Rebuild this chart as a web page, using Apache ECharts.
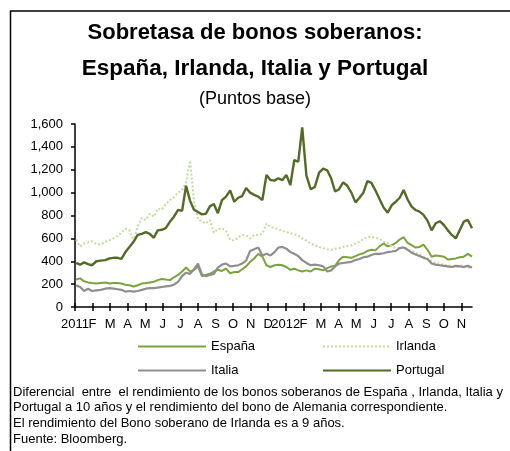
<!DOCTYPE html>
<html>
<head>
<meta charset="utf-8">
<script src="https://cdn.jsdelivr.net/npm/echarts@6/dist/echarts.min.js"></script>
<style>
html, body { margin: 0; padding: 0; background: #fff; }
#chart { width: 510px; height: 451px; }
</style>
</head>
<body>
<div id="chart"></div>
<script>
// weekly observations, first one on this date
var startDate = "2011-01-03";

var monthLabels = ["2011", "F", "M", "A", "M", "J", "J", "A", "S", "O", "N", "D",
	"2012", "F", "M", "A", "M", "J", "J", "A", "S", "O", "N"];

var espana = [240, 250, 225, 215, 210, 205, 210, 215, 205, 210,
	210, 205, 195, 190, 180, 190, 205, 210, 215, 220,
	235, 245, 240, 235, 260, 280, 310, 345, 310, 325,
	355, 270, 280, 290, 310, 325, 315, 335, 295, 305,
	305, 330, 355, 395, 425, 465, 440, 365, 350, 365,
	370, 365, 350, 325, 335, 320, 310, 320, 310, 335,
	330, 320, 340, 355, 360, 410, 440, 435, 430, 445,
	460, 470, 490, 500, 495, 530, 555, 530, 540, 560,
	590, 610, 560, 540, 520, 525, 545, 500, 440, 450,
	445, 440, 415, 420, 425, 435, 440, 465, 440];

var irlanda = [590, 530, 555, 565, 575, 550, 545, 570, 585, 600,
	620, 650, 685, 670, 575, 700, 780, 760, 815, 790,
	860, 850, 900, 935, 960, 1000, 1020, 1090, 1280, 930,
	765, 750, 730, 760, 650, 680, 690, 665, 590, 580,
	610, 630, 625, 600, 630, 630, 640, 730, 700, 690,
	680, 665, 655, 645, 635, 625, 600, 580, 555, 540,
	525, 515, 505, 500, 510, 515, 525, 535, 540, 555,
	570, 595, 610, 615, 605, 595, 570, 560, 530, 515,
	520, 525, 505, 490, 475, 460, 440, 420, 400, 385,
	380, 370, 360, 355, 350, 355, 365, 345, 340];

var italia = [190, 175, 140, 160, 140, 145, 150, 160, 165, 160,
	155, 150, 135, 140, 135, 140, 150, 160, 165, 165,
	170, 175, 180, 185, 195, 220, 270, 300, 290, 330,
	380, 285, 270, 280, 290, 345, 370, 380, 355, 360,
	365, 380, 405, 490, 505, 520, 450, 465, 450, 480,
	520, 525, 510, 480, 465, 445, 410, 385, 365, 370,
	365, 355, 310, 320, 355, 380, 385, 390, 395, 410,
	420, 435, 440, 455, 465, 465, 470, 480, 485, 490,
	515, 520, 500, 475, 460, 445, 430, 420, 380, 370,
	365, 360, 355, 350, 360, 355, 350, 360, 345];

var portugal = [385, 370, 390, 375, 365, 400, 405, 410, 425, 430,
	430, 420, 480, 525, 570, 630, 640, 655, 640, 605,
	670, 675, 690, 745, 790, 850, 840, 1060, 930, 850,
	830, 810, 815, 880, 900, 820, 935, 965, 1020, 920,
	955, 970, 1040, 1000, 980, 965, 935, 1155, 1110, 1105,
	1125, 1110, 1155, 1065, 1285, 1270, 1570, 1150, 1030, 1050,
	1175, 1210, 1195, 1125, 1010, 1030, 1090, 1060, 1000, 915,
	955, 1000, 1100, 1085, 1020, 945, 870, 825, 890, 920,
	955, 1023, 940, 877, 848, 834, 805, 755, 670, 732,
	750, 717, 670, 630, 600, 673, 746, 761, 688];

var notes = [
	"Diferencial  entre  el rendimiento de los bonos soberanos de España , Irlanda, Italia y",
	"Portugal a 10 años y el rendimiento del bono de Alemania correspondiente.",
	"El rendimiento del Bono soberano de Irlanda es a 9 años.",
	"Fuente: Bloomberg."
];

var font = "'Liberation Sans', Arial, sans-serif";

// date -> position on the axis, in months from Jan 2011
function monthPos(t) {
	var d = new Date(t);
	var m = (d.getUTCFullYear() - 2011) * 12 + d.getUTCMonth();
	var days = new Date(Date.UTC(d.getUTCFullYear(), d.getUTCMonth() + 1, 0)).getUTCDate();
	return m + (d.getUTCDate() - 1) / days;
}

var t0 = Date.parse(startDate);
var weekPos = espana.map(function (v, i) {
	return monthPos(t0 + i * 7 * 86400000);
});
var xMax = weekPos[weekPos.length - 1];

function pairs(arr) {
	return arr.map(function (v, i) {
		return [weekPos[i], v];
	});
}

var monthTicks = monthLabels.map(function (l, i) {
	return i;
});
// the first label ("2011") goes on its own axis, otherwise echarts hides "F" as overlapping
var restTicks = monthTicks.slice(1);

var chart = echarts.init(document.getElementById("chart"));

var noteGraphics = notes.map(function (txt, i) {
	return {
		type: "text",
		x: 13,
		y: 392 + i * 15.7,
		style: {
			text: txt,
			font: "13px " + font,
			fill: "#000",
			textVerticalAlign: "middle"
		}
	};
});

var legendText = { fontFamily: font, fontSize: 13, color: "#000" };
var labelStyle = {
	margin: 11,
	fontFamily: font,
	fontSize: 13,
	color: "#000",
	formatter: function (v) {
		return monthLabels[Math.round(v)];
	}
};

var option = {
	animation: false,
	backgroundColor: "#fff",
	title: [
		{
			text: "Sobretasa de bonos soberanos:",
			left: "center",
			top: 17,
			textStyle: { fontFamily: font, fontSize: 22, fontWeight: "bold", color: "#000" }
		},
		{
			text: "España, Irlanda, Italia y Portugal",
			left: "center",
			top: 52,
			textStyle: { fontFamily: font, fontSize: 22.5, fontWeight: "bold", color: "#000" }
		},
		{
			text: "(Puntos base)",
			left: "center",
			top: 85,
			textStyle: { fontFamily: font, fontSize: 18, fontWeight: "normal", color: "#000" }
		}
	],
	legend: [
		{
			data: ["España", "Italia"],
			orient: "vertical",
			left: 132,
			top: 335,
			itemWidth: 68,
			itemHeight: 14,
			itemGap: 11,
			itemStyle: { opacity: 0 },
			textStyle: legendText
		},
		{
			data: ["Irlanda", "Portugal"],
			orient: "vertical",
			left: 317,
			top: 335,
			itemWidth: 68,
			itemHeight: 14,
			itemGap: 11,
			itemStyle: { opacity: 0 },
			textStyle: legendText
		}
	],
	grid: { left: 75, right: 38, top: 124, bottom: 144 },
	xAxis: [
		{
			type: "value",
			min: 0,
			max: xMax,
			axisLine: { onZero: false, lineStyle: { color: "#000", width: 1.5 } },
			axisTick: { customValues: monthTicks, length: 4, lineStyle: { color: "#000", width: 1.5 } },
			axisLabel: Object.assign({ customValues: restTicks }, labelStyle),
			splitLine: { show: false }
		},
		{
			// second copy only to draw the inside half of the crossing ticks
			type: "value",
			position: "bottom",
			min: 0,
			max: xMax,
			axisLine: { show: false },
			axisTick: { customValues: monthTicks, inside: true, length: 4, lineStyle: { color: "#000", width: 1.5 } },
			axisLabel: { show: false },
			splitLine: { show: false }
		},
		{
			type: "value",
			position: "bottom",
			min: 0,
			max: xMax,
			axisLine: { show: false },
			axisTick: { show: false },
			axisLabel: Object.assign({ customValues: [0] }, labelStyle),
			splitLine: { show: false }
		}
	],
	yAxis: {
		type: "value",
		min: 0,
		max: 1600,
		interval: 200,
		axisLine: { show: true, lineStyle: { color: "#000", width: 1.5 } },
		axisTick: { show: true, length: 4, lineStyle: { color: "#000", width: 1.5 } },
		axisLabel: {
			margin: 12,
			fontFamily: font,
			fontSize: 13,
			color: "#000",
			formatter: function (v) {
				return String(v).replace(/\B(?=(\d{3})+(?!\d))/g, ",");
			}
		},
		splitLine: { show: false }
	},
	series: [
		{
			name: "España",
			type: "line",
			data: pairs(espana),
			symbol: "none",
			color: "#7aa33c",
			lineStyle: { width: 2, color: "#7aa33c" }
		},
		{
			name: "Irlanda",
			type: "line",
			data: pairs(irlanda),
			symbol: "none",
			color: "#c3dc9c",
			lineStyle: { width: 2, type: "dotted", color: "#c3dc9c" }
		},
		{
			name: "Italia",
			type: "line",
			data: pairs(italia),
			symbol: "none",
			color: "#8e8e8e",
			lineStyle: { width: 2.2, color: "#8e8e8e" }
		},
		{
			name: "Portugal",
			type: "line",
			data: pairs(portugal),
			symbol: "none",
			color: "#536b27",
			lineStyle: { width: 2.4, color: "#536b27" }
		}
	],
	graphic: [
		{
			type: "polyline",
			shape: { points: [[10.5, 451], [10.5, 11], [510, 11]] },
			style: { stroke: "#000", lineWidth: 1.5, fill: null }
		}
	].concat(noteGraphics)
};

chart.setOption(option);
</script>
</body>
</html>
